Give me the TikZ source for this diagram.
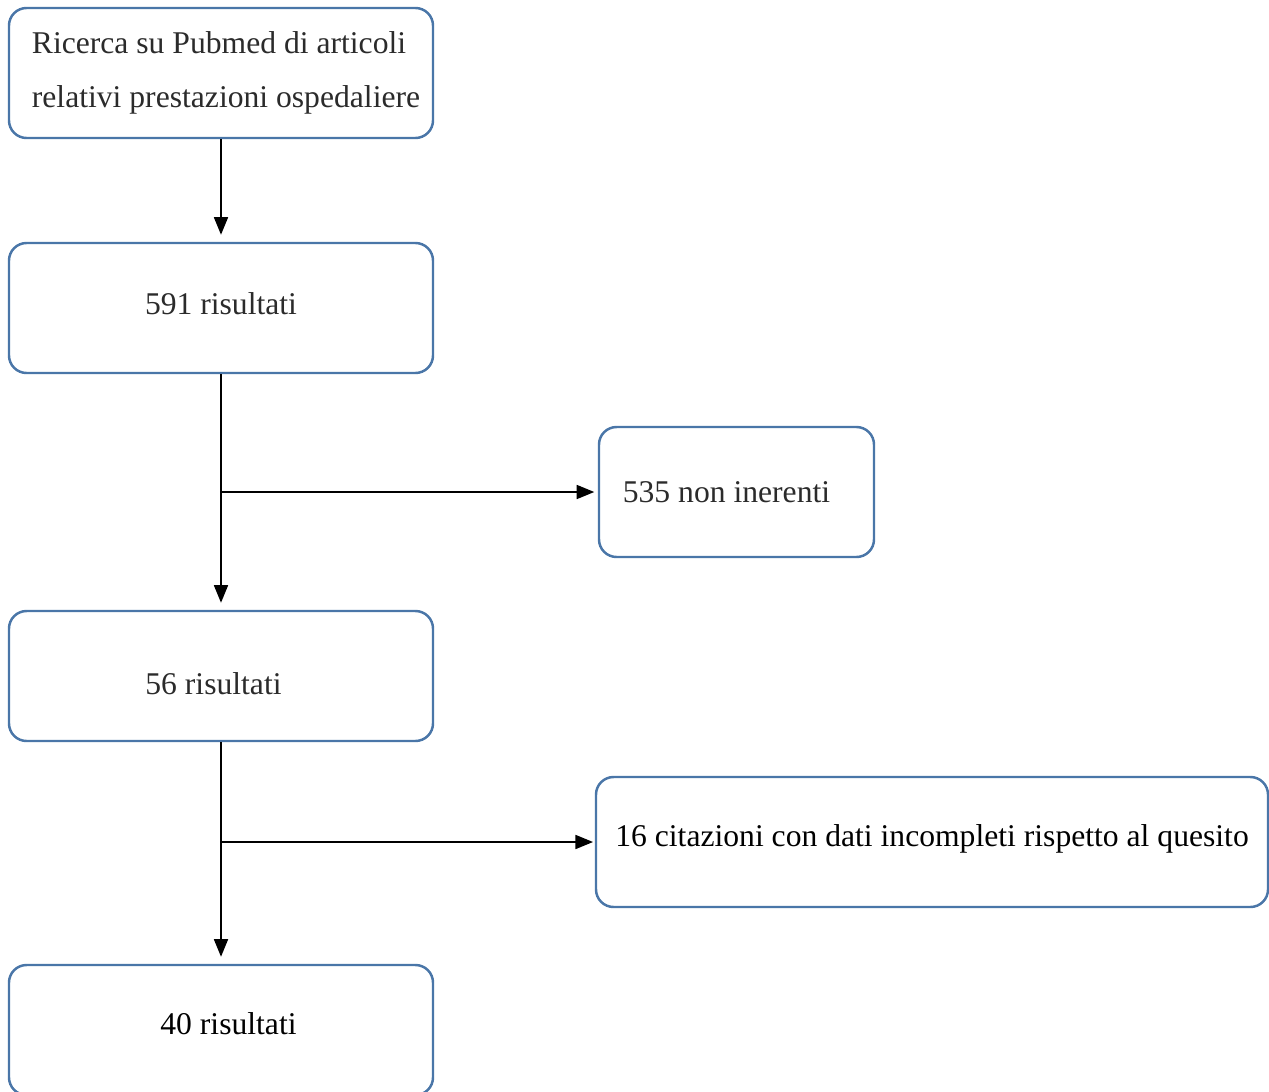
\documentclass[tikz,border=0pt]{standalone}
\usepackage{fontspec}
\setmainfont{Liberation Serif}
\usetikzlibrary{arrows.meta}
\definecolor{boxblue}{HTML}{4A76A8}
\definecolor{textgray}{HTML}{2B2B2B}
\tikzstyle{box}=[draw=boxblue,line width=1.4pt,rounded corners=10pt,minimum height=2.6cm,inner sep=0pt,align=left,font=\fontsize{18pt}{31pt}\selectfont]
\newcommand{\lift}[2]{\raisebox{#1}[\height][\depth]{#2}}

\begin{document}
\begin{tikzpicture}[>={Triangle[length=10pt,width=8pt]}, line width=0.85pt]
\useasboundingbox (0,0) rectangle (25.38,-21.82);
\node[box, minimum width=8.48cm, text=textgray] (search) at (4.42, -1.46) {\hspace{0.2cm}Ricerca su Pubmed di articoli\\\hspace{0.2cm}relativi prestazioni ospedaliere};
\node[box, minimum width=8.48cm, text=textgray] (r591) at (4.42, -6.16) {\lift{2.3pt}{591 risultati}};
\node[box, minimum width=5.5cm, text=textgray] (off) at (14.73, -9.84) {535 non inerenti\hspace{0.4cm}};
\node[box, minimum width=8.48cm, text=textgray] (r56) at (4.42, -13.52) {\lift{-4.5pt}{56 risultati}\hspace{0.3cm}};
\node[box, minimum width=13.44cm] (incomp) at (18.64, -16.84) {\lift{2pt}{16 citazioni con dati incompleti rispetto al quesito}};
\node[box, minimum width=8.48cm] (r40) at (4.42, -20.6) {\hspace{0.3cm}\lift{3.4pt}{40 risultati}};
\coordinate (j1) at (r591.south |- off.west);
\coordinate (j2) at (r56.south |- incomp.west);
\draw[->, shorten >=4pt] (search) -- (r591);
\draw[->, shorten >=4pt] (r591) -- (r56);
\draw[->, shorten >=2pt] (j1) -- (off);
\draw[->, shorten >=4pt] (r56) -- (r40);
\draw[->, shorten >=1pt] (j2) -- (incomp);
\end{tikzpicture}
\end{document}
